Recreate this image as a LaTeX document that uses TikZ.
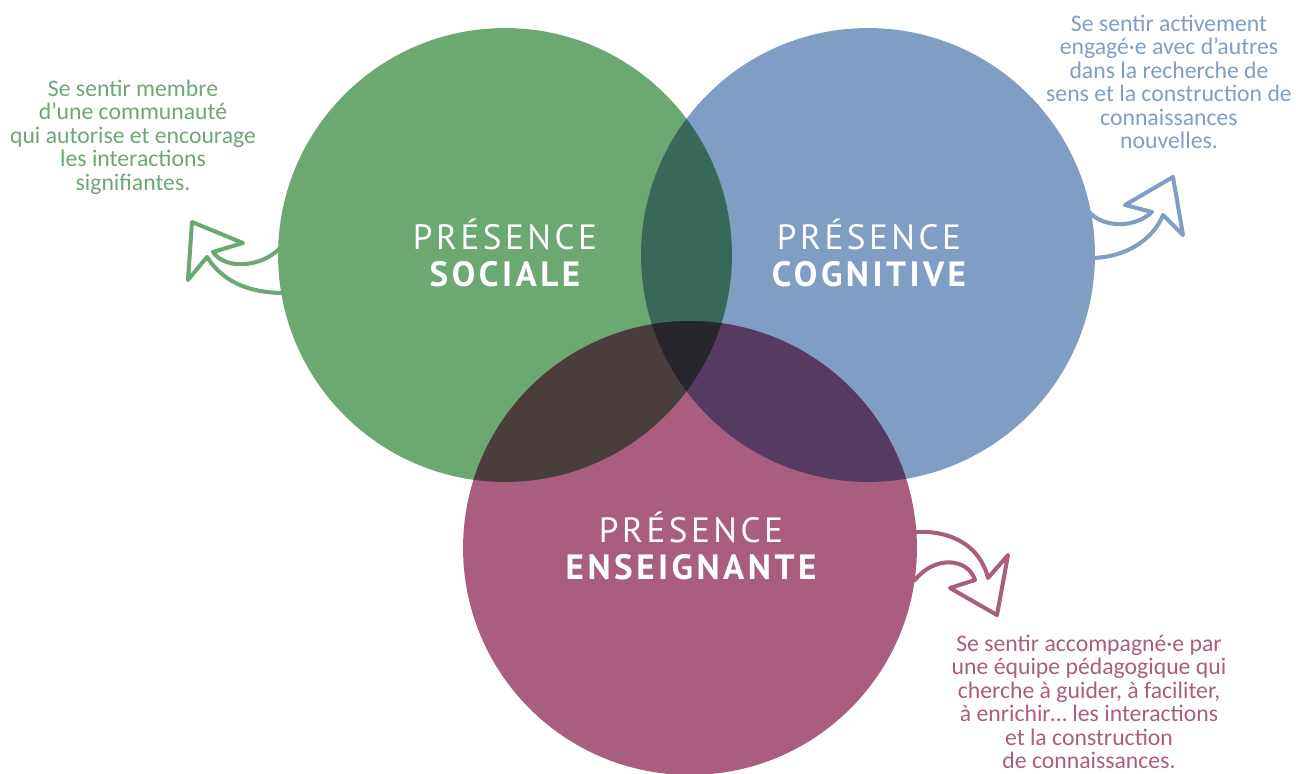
\documentclass[tikz,border=0pt]{standalone}
\usepackage{fontspec}
\setmainfont{Carlito}
\newfontfamily\titlefont[LetterSpace=10]{PT Sans}
\definecolor{sociale}{HTML}{6CA872}
\definecolor{cognitive}{HTML}{809EC4}
\definecolor{enseignante}{HTML}{A95E80}
\definecolor{socog}{HTML}{376858}
\definecolor{soens}{HTML}{4A3E3D}
\definecolor{cogens}{HTML}{563A62}
\definecolor{allthree}{HTML}{26262C}

\tikzset{
  desc/.style={align=center, inner sep=0pt, font=\fontsize{13.5}{13.4}\selectfont},
  title/.style={align=center, inner sep=0pt, text=white, font=\titlefont\fontsize{20}{21}\selectfont},
  curlarrow/.style={line width=2.3pt, line join=round, line cap=round}
}

\begin{document}
\begin{tikzpicture}[x=0.02cm, y=-0.02cm]
  \useasboundingbox (0,0) rectangle (1296,774);

% Centres of the three circles
  \coordinate (s) at (505,255);
  \coordinate (c) at (868,255);
  \coordinate (e) at (690,548);

% The three circles
  \fill[sociale] (s) circle[radius=4.54cm];
  \fill[cognitive] (c) circle[radius=4.54cm];
  \fill[enseignante] (e) circle[radius=4.54cm];

% Overlaps, two by two
\begin{scope}
  \clip (s) circle[radius=4.54cm];
  \fill[socog] (c) circle[radius=4.54cm];
  \fill[soens] (e) circle[radius=4.54cm];
\end{scope}
\begin{scope}
  \clip (c) circle[radius=4.54cm];
  \fill[cogens] (e) circle[radius=4.54cm];
\end{scope}

% Overlap of all three
\begin{scope}
  \clip (s) circle[radius=4.54cm];
  \clip (c) circle[radius=4.54cm];
  \fill[allthree] (e) circle[radius=4.54cm];
\end{scope}

% Titles
  \node[title] (tsociale) at (505,253) {PRÉSENCE\\\bfseries SOCIALE};
  \node[title] (tcognitive) at (869,253) {PRÉSENCE\\\bfseries COGNITIVE};
  \node[title] (tenseignante) at (691,546) {PRÉSENCE\\\bfseries ENSEIGNANTE};

% Curly arrows
  \draw[curlarrow, sociale] (281,293) .. controls (245,292) and (222,280) .. (207,257)
    -- (188,280) -- (192,222) -- (243,243) -- (213,252)
    .. controls (225,270) and (262,268) .. (281,247);
  \draw[curlarrow, cognitive] (1090,258) .. controls (1125,258) and (1153,240) .. (1163,215)
    -- (1183,235) -- (1173,177) -- (1125,205) -- (1152,212)
    .. controls (1135,228) and (1105,228) .. (1090,213);
  \draw[curlarrow, enseignante] (915,532) .. controls (950,530) and (980,545) .. (988,578)
    -- (1008,555) -- (997,615) -- (950,588) -- (975,580)
    .. controls (968,558) and (935,555) .. (915,580);

% Descriptions
  \node[desc, text=sociale] (dsociale) at (133,137) {Se sentir membre\\d’une communauté\\qui autorise et encourage\\les interactions\\signifiantes.};
  \node[desc, text=cognitive] (dcognitive) at (1169,82) {Se sentir activement\\engagé·e avec d’autres\\dans la recherche de\\sens et la construction de\\connaissances\\nouvelles.};
  \node[desc, text=enseignante] (denseignante) at (1089,702) {Se sentir accompagné·e par\\une équipe pédagogique qui\\cherche à guider, à faciliter,\\à enrichir… les interactions\\et la construction\\de connaissances.};
\end{tikzpicture}
\end{document}
